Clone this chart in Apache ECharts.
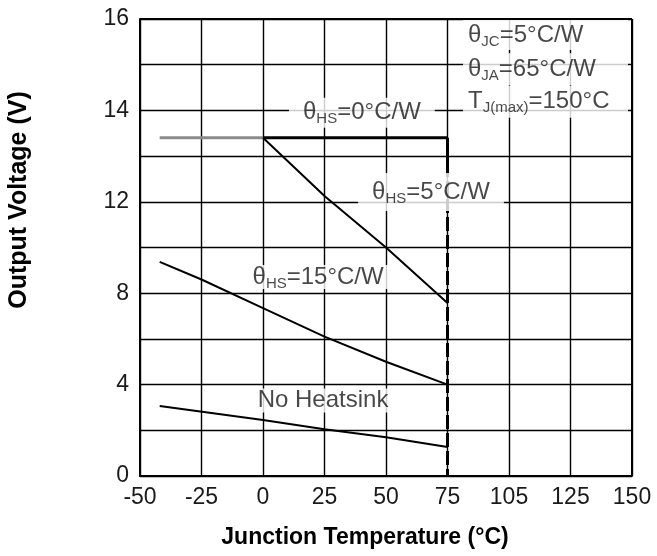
<!DOCTYPE html>
<html>
<head>
<meta charset="utf-8">
<script src="https://cdn.jsdelivr.net/npm/echarts@6/dist/echarts.min.js"></script>
<style>html,body{margin:0;padding:0;background:#fff;}#c{width:657px;height:556px;}</style>
</head>
<body>
<div id="c"></div>
<script>
// Tick labels as printed on the reference (positions are evenly spaced)
var xTickLabels = ['-50', '-25', '0', '25', '50', '75', '105', '125', '150'];
var yTickLabels = ['0', '4', '8', '12', '14', '16'];

// Curves (x = junction temperature position, y = position on the 0..20 grid scale)
var hs0Gray   = [[-42, 14.8], [0, 14.8]];
var hs0Black  = [[0, 14.8], [75, 14.8]];
var tjLimitSolid  = [[75, 14.8], [75, 13.7]];
var tjLimitDashed = [[75, 13.7], [75, 0]];
var hs5   = [[0, 14.8], [25, 12.25], [50, 10.0], [75, 7.57]];
var hs15  = [[-42, 9.37], [-25, 8.6], [0, 7.35], [25, 6.1], [50, 5.0], [75, 4.0]];
var noHs  = [[-42, 3.06], [0, 2.45], [25, 2.05], [50, 1.7], [75, 1.27]];

var FONT = "'Liberation Sans', Arial, Helvetica, sans-serif";
var TXT = '#1a1a1a';
var rich = {
  t: { fontSize: 24, fontFamily: FONT, color: TXT, lineHeight: 30, verticalAlign: 'middle' },
  s: { fontSize: 15, fontFamily: FONT, color: TXT, lineHeight: 15, verticalAlign: 'bottom', padding: [0, 0, 1, 0] }
};

function lineSeries(data, color, width, type) {
  return {
    type: 'line', data: data, symbol: 'none', silent: true, z: 3,
    lineStyle: { color: color, width: width, type: type || 'solid' }
  };
}

function ann(x, y, text, opts) {
  return {
    value: [x, y],
    label: Object.assign({
      show: true, position: 'inside', formatter: text, rich: rich,
      backgroundColor: '#fff', padding: [3, 14]
    }, opts || {})
  };
}

var chart = echarts.init(document.getElementById('c'), null, { renderer: 'canvas' });
chart.setOption({
  animation: false,
  backgroundColor: '#fff',
  grid: { left: 140, right: 25, top: 19, bottom: 80, show: false },
  xAxis: {
    type: 'value', min: -50, max: 150, interval: 25,
    axisLine: { show: true, onZero: false, lineStyle: { color: '#000', width: 2 } },
    axisTick: { show: false },
    splitLine: { show: true, lineStyle: { color: '#000', width: 1.4 } },
    axisLabel: {
      margin: 10, fontSize: 23, fontFamily: FONT, color: TXT,
      formatter: function (v) { return xTickLabels[Math.round((v + 50) / 25)]; }
    }
  },
  yAxis: {
    type: 'value', min: 0, max: 20, interval: 2,
    axisLine: { show: true, onZero: false, lineStyle: { color: '#000', width: 2 } },
    axisTick: { show: false },
    splitLine: { show: true, lineStyle: { color: '#000', width: 1.4 } },
    axisLabel: {
      margin: 11, fontSize: 23, fontFamily: FONT, color: TXT,
      formatter: function (v) { return (v % 4 === 0) ? yTickLabels[v / 4] : ''; }
    }
  },
  graphic: [
    { type: 'line', shape: { x1: 632, y1: 19, x2: 632, y2: 476 }, style: { stroke: '#000', lineWidth: 2 }, z: 1 },
    { type: 'line', shape: { x1: 140, y1: 19, x2: 632, y2: 19 }, style: { stroke: '#000', lineWidth: 2 }, z: 1 },
    { type: 'text', x: 19, y: 200, rotation: Math.PI / 2,
      style: { text: 'Output Voltage (V)', font: 'bold 25px ' + FONT, fill: '#000', align: 'center', verticalAlign: 'middle' } },
    { type: 'text', x: 365, y: 538,
      style: { text: 'Junction Temperature (°C)', font: 'bold 23px ' + FONT, fill: '#000', align: 'center', verticalAlign: 'middle' } }
  ],
  series: [
    lineSeries(hs0Gray, '#8a8a8a', 3),
    lineSeries(hs0Black, '#000', 3),
    lineSeries(tjLimitSolid, '#000', 3),
    lineSeries(tjLimitDashed, '#000', 3, [14, 4]),
    lineSeries(hs5, '#000', 2),
    lineSeries(hs15, '#000', 2),
    lineSeries(noHs, '#000', 2),
    {
      type: 'scatter', symbolSize: 0, silent: true, z: 10,
      data: [
        ann(40.2, 15.90, '{t|θ}{s|HS}{t|=0°C/W}', { padding: [0, 14, 0, 14] }),
        ann(68.3, 12.43, '{t|θ}{s|HS}{t|=5°C/W}', { padding: [4, 14, 4, 14] }),
        ann(22.4, 8.71, '{t|θ}{s|HS}{t|=15°C/W}', { padding: [-3, 6, -3, 6] }),
        ann(24.4, 3.30, '{t|No Heatsink}', { padding: [-3, 8, -3, 8] }),
        ann(81.3, 19.30, '{t|θ}{s|JC}{t|=5°C/W}', { position: 'right', distance: 0, width: 152, align: 'left', padding: [0, 8, 0, 5] }),
        ann(81.3, 17.80, '{t|θ}{s|JA}{t|=65°C/W}', { position: 'right', distance: 0, width: 152, align: 'left', padding: [1, 8, 1, 5] }),
        ann(81.3, 16.38, '{t|T}{s|J(max)}{t|=150°C}', { position: 'right', distance: 0, width: 152, align: 'left', padding: [1, 8, 1, 5] })
      ]
    }
  ]
});
</script>
</body>
</html>
